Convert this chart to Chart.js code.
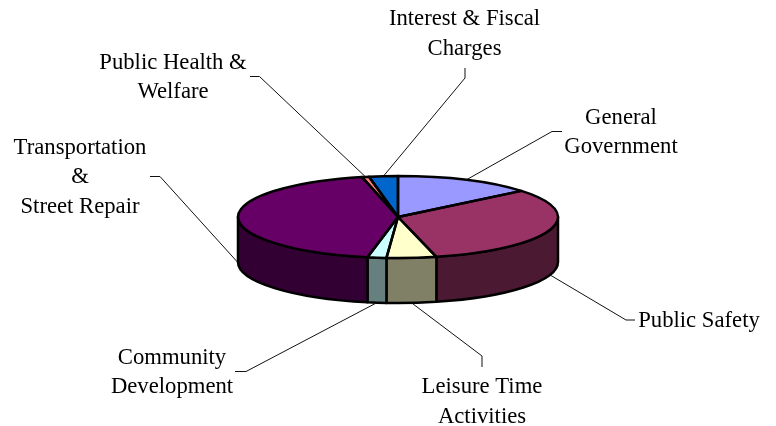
<!DOCTYPE html>
<html lang="en">

<head>
    <meta charset="UTF-8">
    <title>Expenditures by function</title>
    <script src="https://cdnjs.cloudflare.com/ajax/libs/Chart.js/4.4.1/chart.umd.min.js"></script>
    <style>
        body { margin: 0; background: #fff; }
        canvas { display: block; }
    </style>
</head>

<body>
    <canvas id="myChart" width="776" height="426"></canvas>

    <script>
        // Share of the total for each function.
        var categories = ["General Government", "Public Safety", "Leisure Time Activities", "Community Development", "Transportation & Street Repair", "Public Health & Welfare", "Interest & Fiscal Charges"];
        var shares = [14.0, 32.1, 5.0, 1.9, 43.3, 0.7, 2.9];

        var topColors = ["#9999FF", "#993366", "#FFFFCC", "#CCFFFF", "#660066", "#FF8080", "#0066CC"];
        var sideColors = ["#4D4D80", "#4C1933", "#808066", "#668080", "#330033", "#804040", "#003366"];

        // Label lines and where each one sits: centre x, then a baseline per line.
        var labelLines = [["General", "Government"], ["Public Safety"], ["Leisure Time", "Activities"], ["Community", "Development"], ["Transportation", "&", "Street Repair"], ["Public Health &", "Welfare"], ["Interest & Fiscal", "Charges"]];
        var labelX = [621, 699, 482, 172, 80, 173, 464.5];
        var labelY = [[124, 153], [327], [393, 422.5], [364, 393], [154, 183, 212.5], [69, 98], [25, 54.5]];

        // Leader lines: the far end at the label, then the elbow.
        var leaderEnds = [[562, 131.5], [635, 320], [482, 367], [235, 371.5], [150, 176.5], [250, 76.5], [465, 68]];
        var leaderElbows = [[552, 131.5], [626, 320], [482, 356], [246, 371.5], [160, 176.5], [259.5, 76.5], [465, 78]];

        var tilt = 41 / 160;   // squash of the pie's top
        var depth = 45;        // height of the wall

        // Draws the wall before the arcs, squashes the arcs, then outlines and labels.
        var pie3d = {
            id: "pie3d",
            beforeDatasetsDraw: function (chart) {
                var ctx = chart.ctx;
                var arcs = chart.getDatasetMeta(0).data;
                var cx = arcs[0].x, cy = arcs[0].y, rx = arcs[0].outerRadius, ry = rx * tilt;

                ctx.save();
                ctx.lineWidth = 2.5;
                ctx.strokeStyle = "#000";
                ctx.lineJoin = "round";
                arcs.forEach(function (arc, i) {
                    // Only the part of a slice on the front half of the ellipse has a wall.
                    var a = arc.startAngle, b = arc.endAngle;
                    if (a > Math.PI) { a -= 2 * Math.PI; b -= 2 * Math.PI; }
                    a = Math.max(a, 0);
                    b = Math.min(b, Math.PI);
                    if (b <= a) return;
                    ctx.beginPath();
                    ctx.ellipse(cx, cy, rx, ry, 0, a, b);
                    ctx.ellipse(cx, cy + depth, rx, ry, 0, b, a, true);
                    ctx.closePath();
                    ctx.fillStyle = sideColors[i];
                    ctx.fill();
                    ctx.stroke();
                });
                ctx.restore();

                ctx.save();
                ctx.translate(cx, cy);
                ctx.scale(1, tilt);
                ctx.translate(-cx, -cy);
            },
            afterDatasetsDraw: function (chart) {
                var ctx = chart.ctx;
                ctx.restore();

                var arcs = chart.getDatasetMeta(0).data;
                var cx = arcs[0].x, cy = arcs[0].y, rx = arcs[0].outerRadius, ry = rx * tilt;

                ctx.save();
                ctx.lineWidth = 2.5;
                ctx.strokeStyle = "#000";
                ctx.lineJoin = "round";
                arcs.forEach(function (arc) {
                    ctx.beginPath();
                    ctx.moveTo(cx, cy);
                    ctx.ellipse(cx, cy, rx, ry, 0, arc.startAngle, arc.endAngle);
                    ctx.closePath();
                    ctx.stroke();
                });

                // Leaders start at the middle of each slice's outer edge.
                ctx.lineWidth = 1;
                ctx.strokeStyle = "#111";
                arcs.forEach(function (arc, i) {
                    var mid = (arc.startAngle + arc.endAngle) / 2;
                    var x = cx + rx * Math.cos(mid);
                    var y = cy + ry * Math.sin(mid);
                    if (Math.sin(mid) > 0) y += depth;
                    ctx.beginPath();
                    ctx.moveTo(leaderEnds[i][0], leaderEnds[i][1]);
                    ctx.lineTo(leaderElbows[i][0], leaderElbows[i][1]);
                    ctx.lineTo(x, y);
                    ctx.stroke();
                });

                ctx.fillStyle = "#000";
                ctx.font = "22.7px 'Liberation Serif'";
                ctx.textAlign = "center";
                ctx.textBaseline = "alphabetic";
                labelLines.forEach(function (lines, i) {
                    lines.forEach(function (line, j) {
                        ctx.fillText(line, labelX[i], labelY[i][j]);
                    });
                });
                ctx.restore();
            }
        };

        var chart = new Chart(document.getElementById("myChart"), {
            type: "pie",
            data: {
                labels: categories,
                datasets: [{
                    data: shares,
                    backgroundColor: topColors,
                    borderWidth: 0,
                    hoverOffset: 0,
                    clip: false
                }]
            },
            options: {
                responsive: false,
                animation: false,
                events: [],
                layout: { padding: { left: 238, right: 218, top: 57, bottom: 49 } },
                plugins: {
                    legend: { display: false },
                    tooltip: { enabled: false }
                }
            },
            plugins: [pie3d]
        });
    </script>
</body>

</html>
